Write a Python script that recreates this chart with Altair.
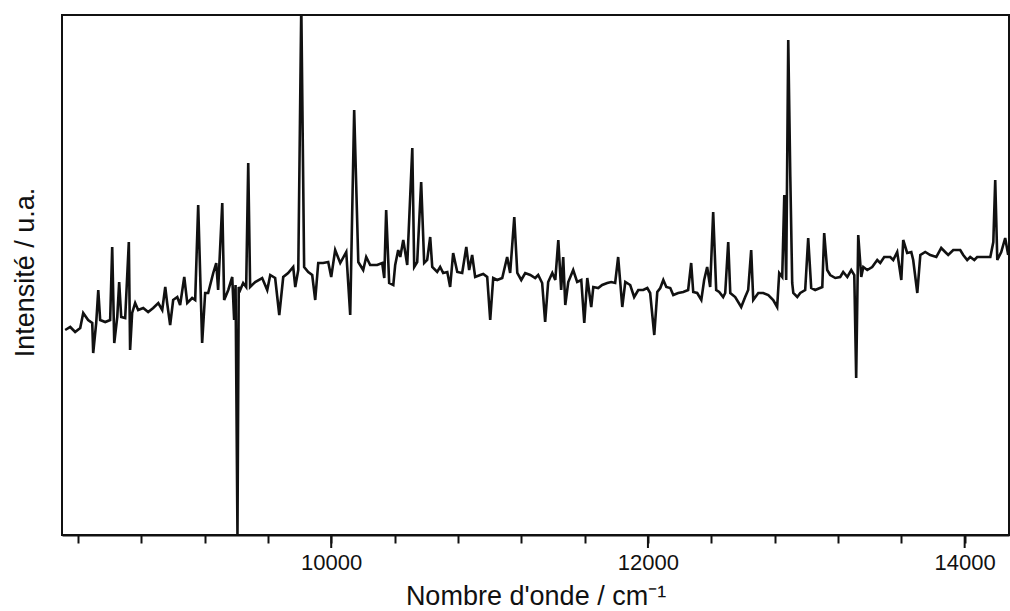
import altair as alt
import pandas as pd

wavenumber = [
    8320, 8352, 8383, 8415, 8434, 8465, 8491, 8497, 8516, 8529, 8541, 8573, 8604, 8617, 8630,
    8649, 8661, 8674, 8699, 8722, 8730, 8743, 8762, 8781, 8813, 8844, 8876, 8908, 8933, 8952,
    8964, 8983, 9002, 9028, 9046, 9072, 9091, 9122, 9141, 9160, 9185, 9204, 9223, 9255, 9274,
    9286, 9312, 9324, 9350, 9375, 9387, 9396, 9408, 9416, 9425,
    9444, 9463, 9476, 9488, 9520, 9564, 9596, 9615, 9646, 9672, 9697, 9728, 9760, 9773, 9792,
    9811, 9829, 9855, 9880, 9899, 9918, 9949, 9981, 10000, 10025, 10057, 10095, 10120, 10145,
    10171, 10202, 10221, 10246, 10290, 10322, 10335, 10347, 10366, 10392, 10404,
    10423, 10436, 10455, 10480, 10512, 10524, 10543, 10568, 10587, 10606, 10625, 10638, 10669,
    10688, 10707, 10733, 10751, 10770, 10796, 10827, 10853, 10871, 10890, 10909, 10941, 10960,
    10985, 11004, 11023, 11048, 11080, 11111, 11130, 11156, 11175, 11200, 11225, 11257, 11288,
    11307, 11332, 11351, 11370, 11396, 11415, 11434, 11452, 11465, 11478,
    11497, 11528, 11553, 11579, 11598, 11617, 11642, 11655, 11686, 11711, 11743, 11768, 11793,
    11812, 11838, 11857, 11888, 11913, 11939, 11970, 11996, 12014, 12040, 12059, 12078, 12097,
    12116, 12141, 12160, 12191, 12223, 12254, 12273, 12286, 12311, 12337, 12355, 12374, 12393,
    12412, 12431, 12450, 12475, 12488, 12507, 12520,
    12551, 12589, 12614, 12633, 12652, 12665, 12697, 12728, 12760, 12791, 12816, 12829, 12848,
    12861, 12873, 12886, 12899, 12911, 12918, 12943, 12962, 12993, 13012, 13031, 13056, 13101,
    13113, 13132, 13151, 13183, 13214, 13233, 13259, 13284, 13303, 13315, 13328, 13347, 13360,
    13385, 13416, 13448, 13467, 13492,
    13530, 13549, 13574, 13600, 13612, 13637, 13663, 13675, 13701, 13720, 13751, 13783, 13821,
    13852, 13877, 13896, 13928, 13972, 13991, 14016, 14035, 14061, 14079, 14117, 14162, 14181,
    14193, 14206, 14231, 14256, 14275,
]

intensity = [
    205, 208, 203, 207, 222, 215, 212, 182, 212, 245, 215, 213, 215, 288, 192,
    218, 253, 218, 217, 293, 185, 222, 232, 225, 227, 223, 227, 232, 225, 248,
    232, 210, 235, 238, 230, 258, 232, 237, 235, 330, 192, 242, 242, 262, 272,
    245, 332, 235, 245, 258, 215, 250, 0, 248, 245,
    252, 248, 372, 248, 253, 257, 245, 260, 257, 220, 258, 262, 268, 248, 265,
    530, 268, 263, 260, 235, 272, 272, 273, 258, 285, 272, 283, 220, 425,
    273, 265, 278, 270, 270, 272, 257, 325, 252, 250, 270,
    285, 278, 295, 270, 387, 268, 273, 353, 272, 275, 298, 268, 263,
    268, 262, 263, 248, 282, 263, 262, 288, 265, 280, 258, 260, 261,
    258, 215, 257, 255, 257, 278, 262, 318, 262, 255, 262, 260, 257,
    260, 252, 213, 253, 262, 255, 295, 245, 278, 230,
    253, 265, 253, 255, 212, 257, 228, 248, 247, 250, 252, 253, 252,
    278, 228, 253, 250, 238, 245, 245, 247, 242, 200, 243, 247, 255,
    248, 247, 240, 242, 243, 245, 272, 243, 242, 235, 255, 268, 248,
    323, 245, 243, 238, 242, 293, 242,
    238, 228, 238, 245, 285, 235, 242, 242, 240, 235, 228, 262, 258,
    340, 255, 495, 358, 252, 242, 238, 242, 245, 297, 247, 245, 248,
    302, 265, 260, 257, 258, 263, 258, 265, 260, 157, 300, 258, 268,
    265, 268, 275, 272, 278,
    278, 275, 283, 255, 295, 282, 283, 275, 242, 280, 283, 280, 278,
    287, 283, 280, 285, 285, 280, 275, 278, 275, 278, 278, 278, 293,
    355, 275, 283, 297, 280,
]

tick_values = [8400, 8600, 8800, 9000, 9200, 9400, 9600, 9800, 10000, 10200, 10400, 10600,
               10800, 11000, 11200, 11400, 11600, 11800, 12000, 12200, 12400, 12600, 12800,
               13000, 13200, 13400, 13600, 13800, 14000, 14200]
major_ticks = [10000, 12000, 14000]

x_domain = [8300, 14280]
y_domain = [0, 520]

df = pd.DataFrame({"wn": wavenumber, "I": intensity})
df_major = pd.DataFrame({"wn": major_ticks})

FONT = "Liberation Sans"
INK = "#111111"

x_scale = alt.Scale(domain=x_domain, nice=False, zero=False)

line = alt.Chart(df).mark_line(
    color=INK, strokeWidth=2.6, clip=True, strokeJoin="miter"
).encode(
    x=alt.X(
        "wn:Q",
        scale=x_scale,
        axis=alt.Axis(
            values=tick_values,
            format="d",
            labelExpr="datum.value % 2000 === 0 ? datum.label : ''",
            tickSize=8,
            tickWidth=2,
            tickColor=INK,
            domainColor=INK,
            domainWidth=2,
            grid=False,
            labelFont=FONT,
            labelFontSize=22,
            labelColor=INK,
            labelPadding=9,
            labelFlush=False,
            labelOverlap=False,
            title="Nombre d'onde / cm⁻¹",
            titleFont=FONT,
            titleFontSize=27,
            titleFontWeight="normal",
            titleColor=INK,
            titleBaseline="alphabetic",
            titleY=69,
        ),
    ),
    y=alt.Y(
        "I:Q",
        scale=alt.Scale(domain=y_domain, nice=False, zero=False),
        axis=alt.Axis(
            labels=False,
            ticks=False,
            grid=False,
            domain=False,
            title="Intensité / u.a.",
            titleFont=FONT,
            titleFontSize=27,
            titleFontWeight="normal",
            titleColor=INK,
            titleAngle=270,
            titleBaseline="alphabetic",
            titleAlign="center",
            titleX=-29,
            titleY=257,
        ),
    ),
)

major = alt.Chart(df_major).mark_rule(
    color=INK, strokeWidth=2, clip=False
).encode(
    x=alt.X("wn:Q", scale=x_scale),
    y=alt.value(520),
    y2=alt.value(533),
)

chart = alt.layer(line, major).properties(
    width=947,
    height=520,
    autosize=alt.AutoSizeParams(type="none"),
    padding={"left": 62, "top": 15, "right": 1, "bottom": 76},
    background="white",
).configure_view(
    stroke=INK,
    strokeWidth=2,
)

chart.save("out.html", embed_options={"renderer": "svg", "actions": False})
